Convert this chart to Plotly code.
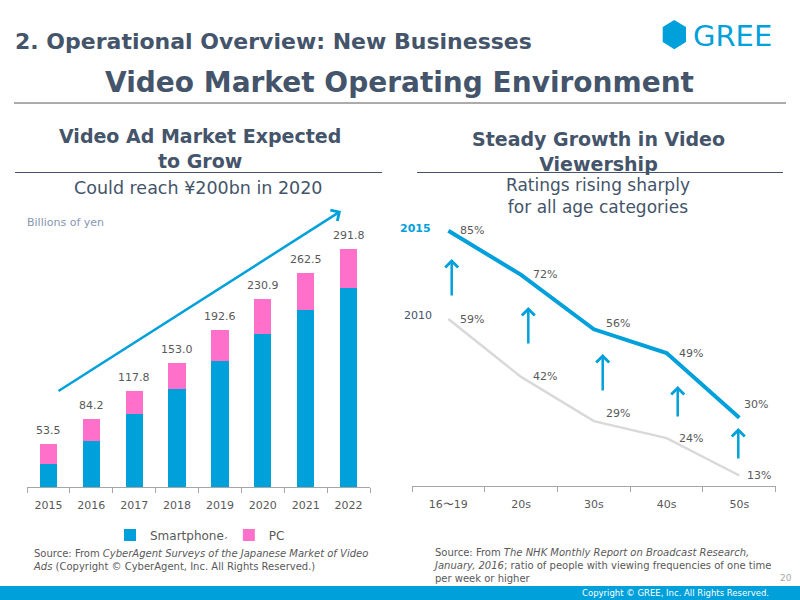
import plotly.graph_objects as go

# ---------------- data ----------------
years = ["2015", "2016", "2017", "2018", "2019", "2020", "2021", "2022"]
totals = [53.5, 84.2, 117.8, 153.0, 192.6, 230.9, 262.5, 291.8]
smartphone = [29.0, 57.2, 89.6, 120.6, 155.0, 188.5, 217.2, 244.9]
pc = [round(t - s, 1) for t, s in zip(totals, smartphone)]

ages = ["16〜19", "20s", "30s", "40s", "50s"]
rate_2015 = [85, 72, 56, 49, 30]
rate_2010 = [59, 42, 29, 24, 13]

# ---------------- styles ----------------
BLUE = "#00A0DA"
PINK = "#FF70CB"
SLATE = "#44546A"
GRAY = "#595959"
FONT = "DejaVu Sans, Verdana, sans-serif"


def px(x):
    return x / 800


def py(y):
    return 1 - y / 600


fig = go.Figure()

# Left: stacked bars
fig.add_trace(go.Bar(x=years, y=smartphone, name="Smartphone", marker_color=BLUE,
                     marker_line_width=0, xaxis="x", yaxis="y"))
fig.add_trace(go.Bar(x=years, y=pc, name="PC", marker_color=PINK,
                     marker_line_width=0, xaxis="x", yaxis="y"))

# Right: lines
fig.add_trace(go.Scatter(x=ages, y=rate_2010, mode="lines", name="2010",
                         line=dict(color="#D9D9D9", width=2.5), showlegend=False,
                         xaxis="x2", yaxis="y2"))
fig.add_trace(go.Scatter(x=ages, y=rate_2015, mode="lines", name="2015",
                         line=dict(color=BLUE, width=4), showlegend=False,
                         xaxis="x2", yaxis="y2"))

annotations = []

# bar totals (category axis positions given by serial index)
for i, t in enumerate(totals):
    annotations.append(dict(x=i, y=t, xref="x", yref="y", text=f"{t:.1f}",
                            showarrow=False, xanchor="center", yanchor="bottom", yshift=5,
                            font=dict(size=11, color=GRAY, family=FONT)))

# line labels (x shift, y shift per point)
shift_2015 = [(10, 0), (10, 0), (10, 6), (10, 0), (3, 13)]
shift_2010 = [(10, 0), (10, 0), (10, 8), (10, 0), (6, 0)]
for series, shifts in ((rate_2015, shift_2015), (rate_2010, shift_2010)):
    for i, (v, (dx, dy)) in enumerate(zip(series, shifts)):
        annotations.append(dict(x=i, y=v, xref="x2", yref="y2", text=f"{v}%",
                                showarrow=False, xanchor="left", yanchor="middle",
                                xshift=dx, yshift=dy,
                                font=dict(size=11, color=GRAY, family=FONT)))


def note(x, y, text, size, color=SLATE, xanchor="center", align="center"):
    return dict(x=px(x), y=py(y), xref="paper", yref="paper", text=text,
                showarrow=False, xanchor=xanchor, yanchor="middle", align=align,
                font=dict(size=size, color=color, family=FONT))


# series labels on the right chart
annotations.append(note(433, 229, "<b>2015</b>", 11, BLUE, "right"))
annotations.append(note(434, 315, "2010", 11, SLATE, "right"))

# up arrows on the right chart (tip x, tip y, length)
for ax_, tip, length in [(451.7, 259, 38), (528.3, 307, 38), (602.7, 354, 38),
                         (677.7, 386, 32), (738.3, 428, 32)]:
    annotations.append(dict(x=px(ax_), y=py(tip), xref="paper", yref="paper", text="",
                            showarrow=True, ax=0, ay=length, arrowhead=4, arrowsize=1,
                            arrowwidth=2.5, arrowcolor=BLUE))

# big growth arrow on left chart
annotations.append(dict(x=px(341), y=py(211), xref="paper", yref="paper", text="",
                        showarrow=True, ax=57 - 341, ay=392 - 211, arrowhead=4, arrowsize=1,
                        arrowwidth=2.5, arrowcolor=BLUE))

# headers and footers
annotations += [
    note(13, 41, "<b>2. Operational Overview: New Businesses</b>", 22, SLATE, "left"),
    note(399, 83, "<b>Video Market Operating Environment</b>", 28),
    note(691, 36, "GREE", 29, BLUE, "left"),
    note(200, 149, "<b>Video Ad Market Expected<br>to Grow</b>", 19),
    note(198, 188, "Could reach ¥200bn in 2020", 17.5),
    note(25, 223, "Billions of yen", 11, "#8497B0", "left"),
    note(598, 151, "<b>Steady Growth in Video<br>Viewership</b>", 19),
    note(598, 196, "Ratings rising sharply<br>for all age categories", 17),
    note(31, 560, "Source: From <i>CyberAgent Surveys of the Japanese Market of Video</i><br>"
                  "<i>Ads</i> (Copyright © CyberAgent, Inc. All Rights Reserved.)",
         10, GRAY, "left", "left"),
    note(431, 565, "Source: From <i>The NHK Monthly Report on Broadcast Research,</i><br>"
                   "<i>January, 2016</i>; ratio of people with viewing frequencies of one time<br>"
                   "per week or higher",
         10, GRAY, "left", "left"),
    note(786, 578, "20", 9, "#A6A6A6"),
    note(771, 593, "Copyright © GREE, Inc. All Rights Reserved.", 8.5, "white", "right"),
    note(225, 533, "ˏ", 10, GRAY),
]

hexagon = (f"M{px(674.3)},{py(20)} L{px(686)},{py(27)} L{px(686)},{py(42)} "
           f"L{px(674.3)},{py(49.3)} L{px(662.7)},{py(42)} L{px(662.7)},{py(27)} Z")

shapes = [
    dict(type="line", xref="paper", yref="paper", x0=px(14), x1=px(786), y0=py(103), y1=py(103),
         line=dict(color="#595959", width=1)),
    dict(type="line", xref="paper", yref="paper", x0=px(15), x1=px(382), y0=py(172.5), y1=py(172.5),
         line=dict(color=SLATE, width=1)),
    dict(type="line", xref="paper", yref="paper", x0=px(417), x1=px(783), y0=py(172.5), y1=py(172.5),
         line=dict(color=SLATE, width=1)),
    dict(type="rect", xref="paper", yref="paper", x0=0, x1=1, y0=0, y1=py(586),
         fillcolor=BLUE, line=dict(width=0)),
    dict(type="path", xref="paper", yref="paper", path=hexagon, fillcolor=BLUE, line=dict(width=0)),
]

fig.update_layout(
    width=800, height=600,
    margin=dict(l=0, r=0, t=0, b=0),
    paper_bgcolor="white", plot_bgcolor="rgba(0,0,0,0)",
    barmode="stack", bargap=0.6,
    font=dict(family=FONT, color=GRAY),
    xaxis=dict(domain=[px(27), px(370)], type="category", range=[-0.5, 7.5],
               showline=True, linecolor="#A6A6A6", linewidth=1, ticks="outside",
               tickson="boundaries", ticklen=5, tickcolor="#A6A6A6",
               tickfont=dict(size=11, color=GRAY), ticklabelstandoff=7,
               showgrid=False, zeroline=False, anchor="y", fixedrange=True),
    yaxis=dict(domain=[py(487.3), py(202)], range=[0, 350], visible=False,
               showgrid=False, zeroline=False, anchor="x"),
    xaxis2=dict(domain=[px(412), px(775.7)], type="category", range=[-0.5, 4.5],
                showline=True, linecolor="#A6A6A6", linewidth=1, ticks="outside",
                tickson="boundaries", ticklen=5, tickcolor="#A6A6A6",
                tickfont=dict(size=11, color=GRAY), ticklabelstandoff=8,
                showgrid=False, zeroline=False, anchor="y2"),
    yaxis2=dict(domain=[py(485.7), py(196.7)], range=[10, 95], visible=False,
                showgrid=False, zeroline=False, anchor="x2"),
    legend=dict(orientation="h", x=px(200), xanchor="center", y=py(535), yanchor="middle",
                font=dict(size=12, color=GRAY), itemwidth=30, traceorder="normal",
                bgcolor="rgba(0,0,0,0)"),
    annotations=annotations,
    shapes=shapes,
)

fig.write_html("out.html")
